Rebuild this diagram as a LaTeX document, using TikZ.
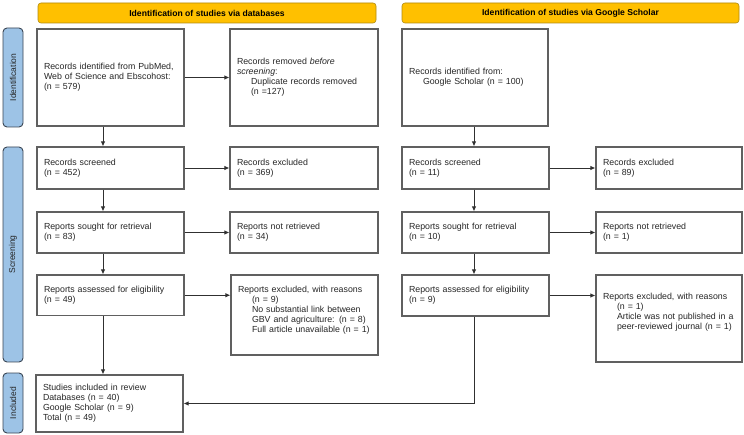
\documentclass[tikz,border=0pt]{standalone}
\usepackage{fontspec}
\setmainfont{Liberation Sans}
\usetikzlibrary{arrows.meta}
\definecolor{bannerfill}{HTML}{FFC000}
\definecolor{bannerline}{HTML}{B08A10}
\definecolor{sidefill}{HTML}{9DC3E6}
\definecolor{sideline}{HTML}{3A4654}
\definecolor{boxline}{HTML}{606060}
\definecolor{conn}{HTML}{303030}
\tikzset{
  boxstyle/.style={draw=boxline, line width=1.2pt, fill=white, rectangle, align=left,
    inner xsep=7pt, inner ysep=2pt, font=\fontsize{8.8}{10}\selectfont, text=black!85},
  bannerstyle/.style={draw=bannerline, line width=0.6pt, fill=bannerfill, rounded corners=3pt,
    font=\bfseries\fontsize{8.6}{10}\selectfont, inner sep=0pt},
  sidestyle/.style={draw=sideline, line width=0.9pt, fill=sidefill, rounded corners=4pt,
    inner sep=0pt},
  sidetext/.style={rotate=90, font=\fontsize{8.5}{10}\selectfont, text=black!85},
  arr/.style={draw=conn, line width=0.9pt, -{Latex[length=5pt,width=4.5pt]}}
}
\newcommand{\ind}{\hspace*{14pt}}
\begin{document}
\begin{tikzpicture}[x=1pt,y=-1pt]
\useasboundingbox (0,0) rectangle (744,435);

% banners
\node[bannerstyle, minimum width=338pt, minimum height=20pt] (ban1) at (207,13) {Identification of studies via databases};
\node[bannerstyle, minimum width=337pt, minimum height=20pt] (ban2) at (570.5,13) {Identification of studies via Google Scholar};

% side bars
\node[sidestyle, minimum width=20pt, minimum height=99pt] (side1) at (13,77.5) {};
\node[sidetext] (side1t) at (side1.center) {Identification};
\node[sidestyle, minimum width=20pt, minimum height=215pt] (side2) at (13,254.5) {};
\node[sidetext] (side2t) at (side2.center) {Screening};
\node[sidestyle, minimum width=20pt, minimum height=60pt] (side3) at (13,403) {};
\node[sidetext] (side3t) at (side3.center) {Included};

% left column (databases)
\node[boxstyle, minimum width=147pt, minimum height=97pt, text width=133pt] (idL) at (110.5,77.5)
  {Records identified from PubMed,\\Web of Science and Ebscohost:\\(n = 579)};
\node[boxstyle, minimum width=148pt, minimum height=97pt, text width=134pt] (remL) at (304,77.5)
  {Records removed \textit{before}\\\textit{screening}:\\\ind Duplicate records removed\\\ind (n =127)};
\node[boxstyle, minimum width=147pt, minimum height=42pt, text width=133pt] (scrL) at (110.5,168)
  {Records screened\\(n = 452)};
\node[boxstyle, minimum width=148pt, minimum height=42pt, text width=134pt] (excL) at (304,168)
  {Records excluded\\(n = 369)};
\node[boxstyle, minimum width=147pt, minimum height=41pt, text width=133pt] (sougL) at (110.5,232.5)
  {Reports sought for retrieval\\(n = 83)};
\node[boxstyle, minimum width=148pt, minimum height=41pt, text width=134pt] (notL) at (304,232.5)
  {Reports not retrieved\\(n = 34)};
\node[boxstyle, minimum width=147pt, minimum height=40.5pt, text width=133pt] (assL) at (110.5,295.25)
  {Reports assessed for eligibility\\(n = 49)};
\node[boxstyle, minimum width=147pt, minimum height=80pt, text width=133pt] (rexL) at (304.5,315)
  {Reports excluded, with reasons\\\ind (n = 9)\\\ind No substantial link between\\\ind GBV and agriculture: (n = 8)\\\ind Full article unavailable (n = 1)\\[1pt]~};
\node[boxstyle, minimum width=147pt, minimum height=57pt, text width=133pt] (inc) at (109.5,403.5)
  {Studies included in review\\Databases (n = 40)\\Google Scholar (n = 9)\\Total (n = 49)};

% right column (Google Scholar)
\node[boxstyle, minimum width=146pt, minimum height=97pt, text width=132pt] (idG) at (475,77.5)
  {Records identified from:\\\ind Google Scholar (n = 100)};
\node[boxstyle, minimum width=147pt, minimum height=42pt, text width=133pt] (scrG) at (475.5,168)
  {Records screened\\(n = 11)};
\node[boxstyle, minimum width=146pt, minimum height=42pt, text width=132pt] (excG) at (669,168)
  {Records excluded\\(n = 89)};
\node[boxstyle, minimum width=147pt, minimum height=41pt, text width=133pt] (sougG) at (475.5,232.5)
  {Reports sought for retrieval\\(n = 10)};
\node[boxstyle, minimum width=146pt, minimum height=41pt, text width=132pt] (notG) at (669,232.5)
  {Reports not retrieved\\(n = 1)};
\node[boxstyle, minimum width=147pt, minimum height=41pt, text width=133pt] (assG) at (475.5,295.5)
  {Reports assessed for eligibility\\(n = 9)};
\node[boxstyle, minimum width=146pt, minimum height=87pt, text width=132pt] (rexG) at (669,318.5)
  {Reports excluded, with reasons\\\ind (n = 1)\\\ind Article was not published in a\\\ind peer-reviewed journal (n = 1)\\[5pt]~};

% connector guide coordinates
\coordinate (cl) at (103,0);
\coordinate (cr) at (474,0);

% horizontal arrows
\draw[arr] (idL.east) -- (remL.west);
\draw[arr] (scrL.east) -- (excL.west);
\draw[arr] (sougL.east) -- (notL.west);
\draw[arr] (assL.east) -- (assL.east -| rexL.west);
\draw[arr] (scrG.east) -- (excG.west);
\draw[arr] (sougG.east) -- (notG.west);
\draw[arr] (assG.east) -- (assG.east -| rexG.west);

% vertical arrows
\draw[arr] (idL.south -| cl) -- (scrL.north -| cl);
\draw[arr] (scrL.south -| cl) -- (sougL.north -| cl);
\draw[arr] (sougL.south -| cl) -- (assL.north -| cl);
\draw[arr] (assL.south -| cl) -- (inc.north -| cl);
\draw[arr] (idG.south -| cr) -- (scrG.north -| cr);
\draw[arr] (scrG.south -| cr) -- (sougG.north -| cr);
\draw[arr] (sougG.south -| cr) -- (assG.north -| cr);
\draw[arr] (assG.south -| cr) |- (inc.east);
\end{tikzpicture}
\end{document}
